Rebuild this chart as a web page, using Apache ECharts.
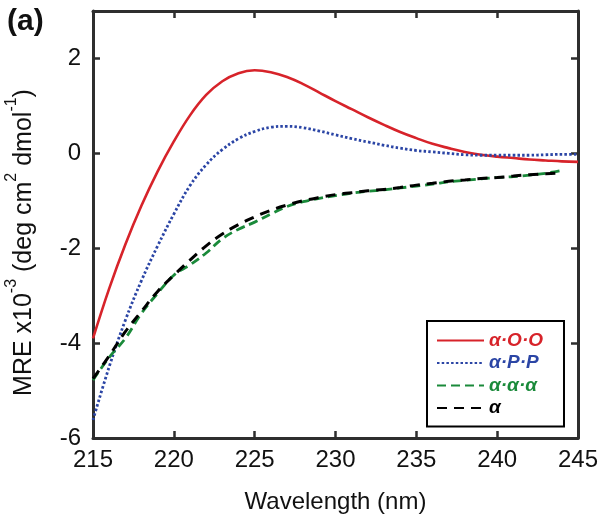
<!DOCTYPE html>
<html>
<head>
<meta charset="utf-8">
<script src="https://cdn.jsdelivr.net/npm/echarts@6/dist/echarts.min.js"></script>
<style>
html,body{margin:0;padding:0;background:#fff;}
#chart{width:600px;height:518px;}
</style>
</head>
<body>
<div id="chart"></div>
<script>
// Wavelengths (nm)
var wavelengths = [215,216,217,218,219,220,221,222,223,224,225,226,227,228,229,230,231,232,233,234,235,236,237,238,239,240,241,242,243,244,245];
// Series values (MRE x10^-3)
var aOO = [-3.9,-2.85,-1.92,-1.1,-0.38,0.25,0.8,1.23,1.52,1.69,1.75,1.71,1.61,1.46,1.28,1.10,0.93,0.76,0.60,0.45,0.32,0.2,0.11,0.03,-0.03,-0.07,-0.1,-0.13,-0.15,-0.17,-0.18];
var aPP = [-5.62,-4.5,-3.52,-2.68,-1.95,-1.28,-0.68,-0.24,0.08,0.31,0.46,0.55,0.57,0.54,0.47,0.39,0.31,0.24,0.17,0.11,0.06,0.03,0.0,-0.03,-0.04,-0.04,-0.04,-0.04,-0.03,-0.02,-0.02];
var aaa = [-4.78,-4.3,-3.9,-3.37,-2.95,-2.57,-2.35,-2.1,-1.8,-1.6,-1.45,-1.28,-1.12,-1.02,-0.95,-0.89,-0.84,-0.8,-0.77,-0.73,-0.69,-0.65,-0.6,-0.57,-0.54,-0.51,-0.49,-0.46,-0.42,-0.36,null];
var aOnly = [-4.75,-4.27,-3.76,-3.33,-2.91,-2.57,-2.25,-1.95,-1.7,-1.5,-1.34,-1.2,-1.09,-1.0,-0.93,-0.87,-0.83,-0.79,-0.76,-0.72,-0.67,-0.63,-0.59,-0.56,-0.53,-0.51,-0.48,-0.45,-0.43,-0.41,null];
var seriesNames = ['\u03b1\u00b7O\u00b7O','\u03b1\u00b7P\u00b7P','\u03b1\u00b7\u03b1\u00b7\u03b1','\u03b1'];
var seriesColors = ['#d7232a','#2b45a5','#1a8a3a','#000000'];

function pairs(vals){
  var out = [];
  for (var i=0;i<wavelengths.length;i++){ if (vals[i]!==null) out.push([wavelengths[i], vals[i]]); }
  return out;
}

var FONT = '"Liberation Sans", Arial, sans-serif';
var axisColor = '#2e2e2e';
var chart = echarts.init(document.getElementById('chart'), null, {renderer:'canvas'});

var baseX = {
  type:'value', min:215, max:245, interval:5,
  axisLine:{show:true, onZero:false, lineStyle:{color:axisColor, width:3}},
  axisTick:{show:true, inside:true, length:7, lineStyle:{color:axisColor, width:2.5}},
  splitLine:{show:false}
};
var baseY = {
  type:'value', min:-6, max:3, interval:2,
  axisLine:{show:true, onZero:false, lineStyle:{color:axisColor, width:3}},
  axisTick:{show:true, inside:true, length:7, lineStyle:{color:axisColor, width:2.5}},
  splitLine:{show:false}
};

var option = {
  animation:false,
  backgroundColor:'#ffffff',
  title:{text:'(a)', left:2, top:2, textStyle:{fontFamily:FONT, fontWeight:'bold', fontSize:30, color:'#111'}},
  grid:{left:93, right:22, top:11, bottom:80, containLabel:false, outerBoundsMode:'none'},
  legend:{
    orient:'vertical', left:427, top:321,
    padding:[10,21,9,9], itemGap:3.5, itemWidth:47, itemHeight:14,
    borderColor:'#000', borderWidth:2, backgroundColor:'#fff',
    itemStyle:{opacity:0},
    textStyle:{fontFamily:FONT, fontSize:19, fontStyle:'italic', fontWeight:'bold'},
    data: seriesNames.map(function(n,i){ return {name:n, textStyle:{color:seriesColors[i]}}; })
  },
  xAxis:[
    Object.assign({}, baseX, {
      position:'bottom',
      axisLabel:{show:true, margin:10, fontFamily:FONT, fontSize:24, color:'#111'},
      name:'Wavelength (nm)', nameLocation:'middle', nameGap:52,
      nameTextStyle:{fontFamily:FONT, fontSize:24, color:'#111'}
    }),
    Object.assign({}, baseX, {position:'top', axisLabel:{show:false}})
  ],
  yAxis:[
    Object.assign({}, baseY, {
      position:'left',
      axisLabel:{show:true, margin:12, fontFamily:FONT, fontSize:24, color:'#111',
        formatter:function(v){ return v<0 ? '-'+Math.abs(v) : String(v); },
        showMaxLabel:false},
      name:'{n|MRE x10}{s|-3}{n| (deg cm}{s|2}{n| dmol}{s|-1}{n|)}',
      nameLocation:'middle', nameGap:56,
      nameTextStyle:{fontFamily:FONT, fontSize:25, color:'#111', padding:[0,36,0,0],
        rich:{
          n:{fontFamily:FONT, fontSize:25, color:'#111', verticalAlign:'bottom', lineHeight:33},
          s:{fontFamily:FONT, fontSize:16, color:'#111', verticalAlign:'top', lineHeight:33}
        }}
    }),
    Object.assign({}, baseY, {position:'right', axisLabel:{show:false}})
  ],
  series:[
    {name:seriesNames[0], type:'line', data:pairs(aOO), smooth:0.4, symbol:'none', showSymbol:false,
      lineStyle:{color:seriesColors[0], width:2.6, type:'solid'}, itemStyle:{color:seriesColors[0]}},
    {name:seriesNames[1], type:'line', data:pairs(aPP), smooth:0.4, symbol:'none', showSymbol:false,
      lineStyle:{color:seriesColors[1], width:2.8, type:[2.5,2.2]}, itemStyle:{color:seriesColors[1]}},
    {name:seriesNames[2], type:'line', data:pairs(aaa), smooth:0.4, symbol:'none', showSymbol:false,
      lineStyle:{color:seriesColors[2], width:2.8, type:[9,5]}, itemStyle:{color:seriesColors[2]}},
    {name:seriesNames[3], type:'line', data:pairs(aOnly), smooth:0.4, symbol:'none', showSymbol:false,
      lineStyle:{color:seriesColors[3], width:3, type:[10,7]}, itemStyle:{color:seriesColors[3]}}
  ]
};
chart.setOption(option);
</script>
</body>
</html>
